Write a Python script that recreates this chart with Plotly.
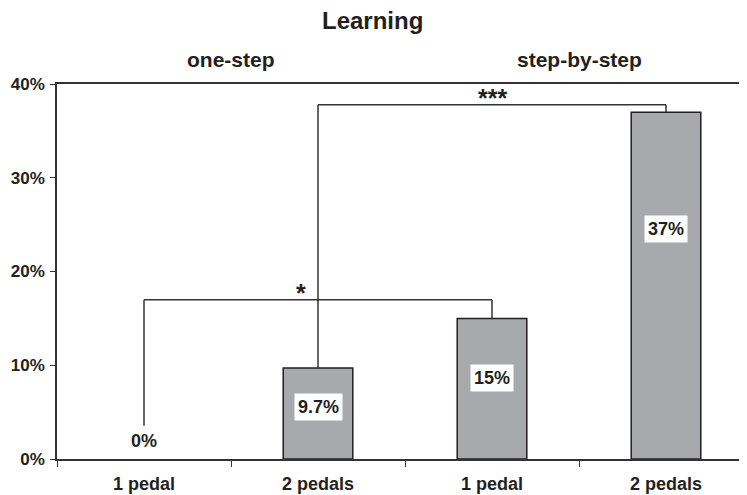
import plotly.graph_objects as go

# ---- data ----
group_names = ["one-step", "step-by-step"]
category_ids = ["one-step 1 pedal", "one-step 2 pedals", "step-by-step 1 pedal", "step-by-step 2 pedals"]
tick_labels = ["1 pedal", "2 pedals", "1 pedal", "2 pedals"]
learning_pct = [0, 9.7, 15, 37]
value_labels = ["0%", "9.7%", "15%", "37%"]
label_y = [1.9, 5.55, 8.6, 24.5]
y_ticks = [0, 10, 20, 30, 40]

# significance brackets
sig_left = [0, 1]
sig_right = [2, 3]
sig_level = [17.0, 37.8]
sig_left_end = [3.55, 9.7]
sig_right_end = [15, 37]
sig_text = ["*", "***"]
sig_text_x = [0.9, 2.0]

FONT = "Liberation Sans, Arial, sans-serif"
INK = "#231f20"

fig = go.Figure()
fig.add_trace(go.Bar(
    x=category_ids, y=learning_pct, width=0.4,
    marker=dict(color="#a7a9ac",
                line=dict(color=INK, width=[1.5 if v > 0 else 0 for v in learning_pct])),
    hoverinfo="skip",
))

shapes = []
annotations = []
for i in range(len(sig_level)):
    xl, xr, lv = sig_left[i], sig_right[i], sig_level[i]
    line = dict(color="#333333", width=1.5)
    shapes.append(dict(type="line", xref="x", yref="y", x0=xl, x1=xr, y0=lv, y1=lv, line=line))
    shapes.append(dict(type="line", xref="x", yref="y", x0=xl, x1=xl, y0=sig_left_end[i], y1=lv, line=line))
    shapes.append(dict(type="line", xref="x", yref="y", x0=xr, x1=xr, y0=sig_right_end[i], y1=lv, line=line))
    annotations.append(dict(x=sig_text_x[i], y=lv, xref="x", yref="y", text="<b>%s</b>" % sig_text[i],
                            showarrow=False, yanchor="bottom", yshift=-9,
                            font=dict(family=FONT, size=25, color=INK)))

for i, c in enumerate(category_ids):
    annotations.append(dict(
        x=i, y=label_y[i], xref="x", yref="y", text="<b>%s</b>" % value_labels[i],
        showarrow=False, font=dict(family=FONT, size=18, color=INK),
        bgcolor="white" if learning_pct[i] > 0 else "rgba(0,0,0,0)", borderpad=3,
    ))

annotations.append(dict(x=(372 - 57) / 696, y=1.0, xref="paper", yref="paper", yanchor="middle",
                        yshift=64, text="<b>Learning</b>", showarrow=False,
                        font=dict(family=FONT, size=24, color=INK)))
for name, xc in zip(group_names, [0.5, 2.5]):
    annotations.append(dict(x=xc, y=1.0, xref="x", yref="paper", yanchor="middle",
                            yshift=25, text="<b>%s</b>" % name, showarrow=False,
                            font=dict(family=FONT, size=21, color=INK)))

fig.update_layout(
    width=747, height=495,
    margin=dict(l=49, r=2, t=76, b=44),
    paper_bgcolor="white", plot_bgcolor="white",
    showlegend=False,
    shapes=shapes, annotations=annotations,
    font=dict(family=FONT, color=INK),
    xaxis=dict(
        type="category", range=[-0.5, 3.5], automargin=False,
        tickvals=category_ids, ticktext=["<b>%s</b>" % t for t in tick_labels],
        tickson="boundaries", ticks="outside", ticklen=6, tickcolor="#333333", tickwidth=1.2,
        ticklabelstandoff=8,
        showline=True, linecolor="#333333", linewidth=1.5, mirror=True,
        showgrid=False, tickfont=dict(family=FONT, size=18, color=INK),
    ),
    yaxis=dict(
        range=[0, 40], tickvals=y_ticks, ticktext=["<b>%d%%</b>" % v for v in y_ticks],
        automargin=False,
        ticks="outside", ticklen=5, tickcolor="#333333", tickwidth=1.2,
        ticklabelstandoff=2,
        showline=True, linecolor="#333333", linewidth=1.5,
        showgrid=False, zeroline=False, tickfont=dict(family=FONT, size=17, color=INK),
    ),
)

fig.write_html("out.html")
